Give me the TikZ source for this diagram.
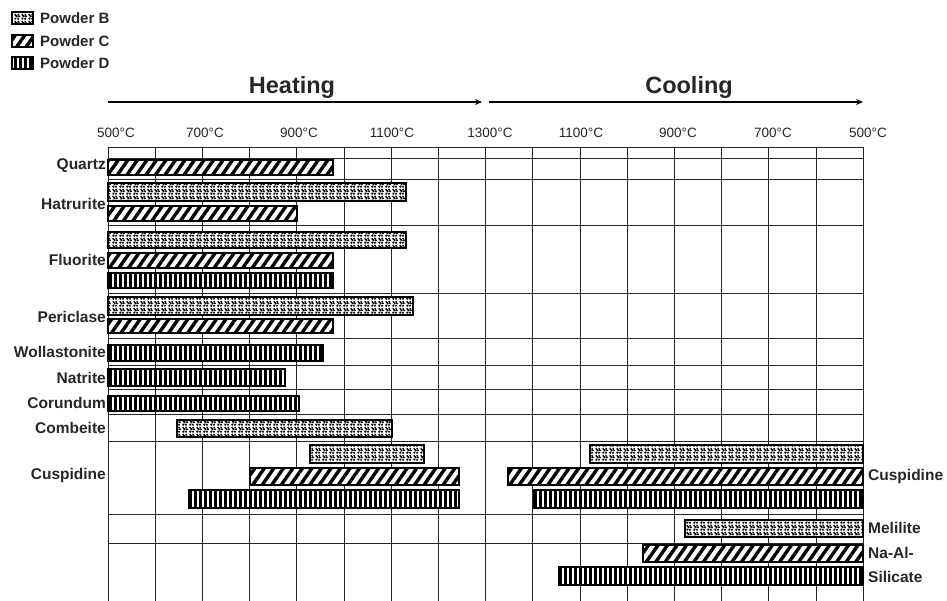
\documentclass[tikz,border=0pt]{standalone}
\usepackage{fontspec}
\setmainfont{Liberation Sans}
\usetikzlibrary{patterns,patterns.meta,arrows.meta}

\pgfdeclarepatternformonly{speckle}{\pgfqpoint{0pt}{0pt}}{\pgfqpoint{7pt}{7pt}}{\pgfqpoint{7pt}{7pt}}{%
  \pgfpathcircle{\pgfqpoint{1.5pt}{1.5pt}}{1.35pt}%
  \pgfpathcircle{\pgfqpoint{4.6pt}{1.3pt}}{1.25pt}%
  \pgfpathcircle{\pgfqpoint{2.9pt}{4.1pt}}{1.35pt}%
  \pgfpathcircle{\pgfqpoint{5.7pt}{4.0pt}}{1.2pt}%
  \pgfpathcircle{\pgfqpoint{1.4pt}{5.7pt}}{1.15pt}%
  \pgfpathcircle{\pgfqpoint{4.7pt}{5.9pt}}{1.1pt}%
  \pgfusepath{fill}%
}

\tikzset{
  barbase/.style={draw=black, line width=1.4pt, preaction={fill=white}},
  pb/.style={barbase, pattern=speckle},
  pc/.style={barbase, pattern={Lines[angle=55,distance=7.8pt,line width=3.4pt]}},
  pd/.style={barbase, pattern={Lines[angle=90,distance=5pt,line width=3pt]}},
  gridv/.style={draw=black!85, line width=0.9pt},
  gridh/.style={draw=black!85, line width=0.9pt},
  lab/.style={font=\fontsize{15.5}{17}\selectfont\bfseries, inner sep=0pt, text=black!85},
  leg/.style={font=\fontsize{15}{17}\selectfont\bfseries, inner sep=0pt, anchor=west, text=black!85},
  temp/.style={font=\fontsize{13.5}{15}\selectfont, inner sep=0pt, text=black!85},
  head/.style={font=\fontsize{23.5}{26}\selectfont\bfseries, inner sep=0pt, text=black!85},
  arr/.style={line width=1.1pt, -{Stealth[length=7pt,width=6pt]}},
}

\begin{document}
\begin{tikzpicture}[x=1pt,y=-1pt]
\useasboundingbox (0,0) rectangle (947,601);
\fill[white] (0,0) rectangle (947,601);

% legend
\draw[pb] (12,12) rectangle (33,24);
\draw[pc] (12,35) rectangle (33,47);
\draw[pd] (12,57) rectangle (33,69);
\node[leg] (legB) at (40,18) {Powder B};
\node[leg] (legC) at (40,41) {Powder C};
\node[leg] (legD) at (40,63) {Powder D};

% headings and arrows
\node[head] (heat) at (292,87) {Heating};
\node[head] (cool) at (689,87) {Cooling};
\coordinate (h0) at (108,102);
\coordinate (h1) at (482,102);
\coordinate (c0) at (489,102);
\coordinate (c1) at (863,102);
\draw[arr] (h0) -- (h1);
\draw[arr] (c0) -- (c1);

% temperature labels
\node[temp] (t1) at (116,133) {500°C};
\node[temp] (t2) at (205,133) {700°C};
\node[temp] (t3) at (299,133) {900°C};
\node[temp] (t4) at (392,133) {1100°C};
\node[temp] (t5) at (490,133) {1300°C};
\node[temp] (t6) at (581,133) {1100°C};
\node[temp] (t7) at (678,133) {900°C};
\node[temp] (t8) at (773,133) {700°C};
\node[temp] (t9) at (868,133) {500°C};

% grid
\foreach \k in {0,...,16}
  \draw[gridv] ({108+47.2*\k},147) -- ({108+47.2*\k},601);
\foreach \y in {147,158,179,225,293,338,365,389,414,441,514,543}
  \draw[gridh] (108,\y) -- (863,\y);

% heating bars
\draw[pc] (108,160) rectangle (333,175);
\draw[pb] (108,183) rectangle (406,201);
\draw[pc] (108,206) rectangle (297,221);
\draw[pb] (108,232) rectangle (406,248);
\draw[pc] (108,253) rectangle (333,268);
\draw[pd] (108,273) rectangle (333,288);
\draw[pb] (108,297) rectangle (413,315);
\draw[pc] (108,319) rectangle (333,333);
\draw[pd] (108,345) rectangle (323,361);
\draw[pd] (108,369) rectangle (285,386);
\draw[pd] (108,396) rectangle (299,411);
\draw[pb] (177,420) rectangle (392,437);
\draw[pb] (310,445) rectangle (424,463);
\draw[pc] (250,468) rectangle (459,485);
\draw[pd] (189,490) rectangle (459,508);

% cooling bars
\draw[pb] (590,445) rectangle (863,463);
\draw[pc] (508,468) rectangle (863,485);
\draw[pd] (534,490) rectangle (863,508);
\draw[pb] (685,520) rectangle (863,537);
\draw[pc] (643,545) rectangle (863,562);
\draw[pd] (559,567) rectangle (863,585);

% left labels
\node[lab, anchor=east] (quartz) at (106,166) {Quartz};
\node[lab, anchor=east] (hatr) at (106,204) {Hatrurite};
\node[lab, anchor=east] (fluo) at (106,260) {Fluorite};
\node[lab, anchor=east] (peri) at (106,317) {Periclase};
\node[lab, anchor=east] (woll) at (106,352) {Wollastonite};
\node[lab, anchor=east] (natr) at (106,378) {Natrite};
\node[lab, anchor=east] (coru) at (106,403) {Corundum};
\node[lab, anchor=east] (comb) at (106,428) {Combeite};
\node[lab, anchor=east] (cusp) at (106,475) {Cuspidine};

% right labels
\node[lab, anchor=west] (cuspR) at (868,476) {Cuspidine};
\node[lab, anchor=west] (meli) at (868,528) {Melilite};
\node[lab, anchor=west] (naal) at (868,553) {Na-Al-};
\node[lab, anchor=west] (sili) at (868,577) {Silicate};
\end{tikzpicture}
\end{document}
